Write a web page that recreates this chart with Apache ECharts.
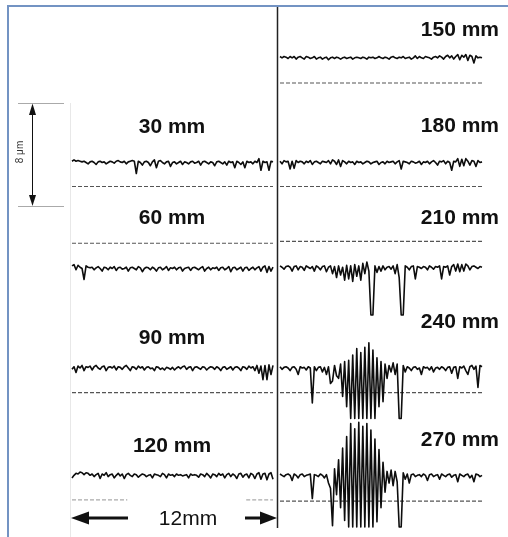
<!DOCTYPE html>
<html><head><meta charset="utf-8">
<script src="https://cdn.jsdelivr.net/npm/echarts@6/dist/echarts.min.js"></script>
<style>html,body{margin:0;padding:0;background:#fff}#c{width:508px;height:537px}</style>
</head><body><div id="c"></div>
<script>
// profile sampling step along the 12 mm trace (mm)
const xStepMm = 0.12;
const traceLengthMm = 12;
const leftLabels = ['30 mm', '60 mm', '90 mm', '120 mm'];
const rightLabels = ['150 mm', '180 mm', '210 mm', '240 mm', '270 mm'];
const scaleLabelY = '8 μm';
const scaleLabelX = '12mm';

// roughness deviations (μm)
const p30 = [0.1,0.2,0.1,0.15,0.1,0.05,0.1,0.0,-0.1,0.05,
 0.1,0.0,-0.15,0.05,0.1,0.0,0.05,-0.1,0.0,0.1,
 0.05,-0.05,0.1,0.15,0.05,0.0,0.1,-0.1,0.05,0.1,
 0.15,0.1,-0.85,0.1,0.0,-0.2,0.05,0.1,0.0,-0.25,
 0.05,0.2,-0.4,0.1,0.15,0.0,-0.1,0.05,0.1,-0.3,
 0.0,0.05,-0.1,0.0,0.1,-0.15,0.05,0.0,-0.1,0.05,
 0.1,-0.05,0.0,0.1,-0.2,0.05,0.1,0.0,-0.1,0.05,
 0.0,-0.25,0.05,0.1,0.0,-0.1,0.05,-0.2,0.1,0.0,
 0.05,-0.4,0.1,0.0,-0.15,0.05,-0.4,0.1,0.0,0.05,
 -0.1,0.1,0.0,0.3,-0.6,0.1,0.0,0.05,-0.6,0.1,
 0.05];
const p60 = [0.2,0.3,-0.1,0.25,0.1,0.0,-0.85,0.2,0.1,0.05,
 0.1,-0.1,0.05,0.15,0.0,-0.2,0.1,0.05,-0.1,0.1,
 0.0,0.15,-0.15,0.05,0.1,-0.05,0.0,0.1,-0.2,0.05,
 0.1,0.0,-0.1,0.15,0.05,-0.25,0.0,0.1,0.05,-0.1,
 0.1,0.0,-0.2,0.05,0.1,-0.1,0.0,0.15,-0.15,0.05,
 0.0,0.1,-0.1,0.05,0.1,-0.2,0.0,0.05,0.1,-0.15,
 0.05,0.1,0.0,-0.1,0.05,0.15,-0.2,0.0,0.1,-0.1,
 0.05,0.0,0.1,-0.15,0.05,0.1,-0.1,0.0,0.15,-0.25,
 0.05,0.1,-0.1,0.0,0.1,-0.2,0.05,0.1,-0.15,0.0,
 0.1,-0.1,0.05,0.15,-0.2,0.1,0.2,-0.3,0.15,-0.2,
 0.1];
const p90 = [-0.1,0.1,-0.35,0.15,0.0,0.2,-0.2,0.1,0.05,0.15,
 -0.15,0.1,0.2,0.0,-0.1,0.1,0.15,-0.2,0.05,0.1,
 0.0,0.15,-0.15,0.1,0.05,-0.1,0.1,0.2,0.0,-0.2,
 0.1,0.05,-0.1,0.15,0.0,0.1,-0.15,0.05,0.1,-0.05,
 0.0,-0.2,0.1,0.05,-0.1,0.0,-0.15,0.05,0.0,-0.1,
 0.05,-0.15,0.0,0.1,-0.05,0.1,0.15,-0.1,0.05,0.1,
 -0.2,0.05,0.1,0.0,-0.1,0.1,0.05,-0.15,0.0,0.1,
 0.05,-0.1,0.1,0.0,-0.2,0.05,0.1,-0.1,0.0,0.1,
 -0.15,0.05,0.1,0.0,-0.2,0.1,0.05,-0.1,0.15,0.0,
 0.1,-0.2,0.2,-0.4,0.15,-0.9,0.2,-0.9,0.25,-0.5,
 0.2];
const p120 = [-0.2,0.0,0.15,0.1,0.25,0.2,0.05,0.2,0.15,0.0,
 0.1,-0.1,0.05,0.15,-0.25,0.1,0.0,0.2,-0.1,0.05,
 0.1,-0.2,0.0,0.15,-0.05,0.1,-0.25,0.05,0.15,0.0,
 -0.1,0.1,0.05,-0.15,0.0,0.1,0.05,-0.1,0.0,0.05,
 -0.2,0.1,0.05,0.0,-0.1,0.15,0.05,-0.2,0.1,0.0,
 0.05,-0.1,0.1,0.0,0.05,-0.05,0.0,0.05,-0.2,0.1,
 0.0,0.05,0.0,-0.15,0.1,0.05,-0.1,0.15,0.0,-0.2,
 0.1,0.05,-0.1,0.15,0.0,0.1,-0.2,0.05,0.15,-0.1,
 0.1,0.0,-0.25,0.1,0.15,-0.15,0.05,0.1,-0.2,0.15,
 0.05,-0.25,0.1,0.2,-0.3,0.1,0.15,-0.35,0.1,0.2,
 -0.3];
const p150 = [0.1,0.0,0.1,0.05,-0.05,0.1,0.0,0.1,-0.1,0.05,
 0.1,0.0,-0.1,0.1,0.05,-0.05,0.0,0.1,-0.1,0.0,
 0.05,-0.1,0.0,0.05,-0.15,0.0,0.05,-0.05,0.05,0.0,
 -0.1,0.0,0.05,-0.05,0.0,0.05,-0.1,0.0,0.05,0.0,
 -0.05,0.05,0.0,-0.1,0.05,0.0,0.05,-0.05,0.0,0.1,
 0.0,-0.05,0.05,0.0,-0.1,0.05,0.1,0.0,-0.05,0.05,
 0.0,0.1,-0.05,0.0,0.05,-0.1,0.0,0.15,-0.05,0.1,
 0.0,-0.05,0.1,0.05,0.0,-0.1,0.05,0.1,0.0,0.15,
 0.05,-0.1,0.1,0.2,0.0,0.15,-0.1,0.1,0.25,-0.15,
 0.2,0.05,0.25,-0.2,0.2,0.1,-0.4,0.15,0.0,0.05,
 0.0];
const p180 = [0.1,-0.1,0.15,0.05,0.1,-0.5,0.1,-0.45,0.15,0.0,
 0.1,0.05,-0.1,0.1,0.0,0.15,-0.15,0.05,0.1,0.0,
 -0.1,0.1,0.05,0.0,0.15,-0.1,0.2,0.1,-0.15,0.2,
 -0.3,0.15,0.05,-0.1,0.1,0.0,0.05,-0.15,0.1,0.0,
 0.05,-0.1,0.0,0.1,0.05,-0.1,0.0,0.05,0.1,-0.15,
 0.0,0.05,-0.1,0.1,0.0,0.05,0.1,-0.1,0.05,0.15,
 -0.5,0.1,0.05,0.0,-0.1,0.1,0.05,-0.05,0.0,0.1,
 -0.15,0.05,0.0,0.1,-0.1,0.05,0.15,0.0,-0.2,0.1,
 0.05,0.15,-0.1,0.1,0.0,-0.6,0.1,0.05,0.3,-0.3,
 0.25,-0.25,0.3,0.1,-0.2,0.15,0.1,-0.3,0.15,0.0,
 0.05];
const p210 = [0.1,0.0,-0.15,0.05,0.1,0.0,-0.3,0.05,0.1,-0.2,
 0.05,0.0,-0.25,0.1,0.0,-0.1,0.05,-0.3,0.1,0.0,
 -0.2,0.05,0.1,-0.35,0.0,0.1,-0.5,0.05,-0.8,0.1,
 -0.6,0.0,-1.0,0.15,-0.9,0.1,-1.1,0.2,-0.7,0.1,
 -1.0,0.3,-0.5,0.4,-0.3,-3.7,-3.7,0.1,-0.4,0.05,
 -0.3,0.1,-0.2,0.0,0.05,-0.15,0.1,-0.5,0.2,-0.8,
 -3.7,-3.7,0.1,0.0,-0.2,0.05,0.1,-0.9,0.05,0.0,
 -0.1,0.05,0.0,-0.2,0.1,0.0,-0.15,0.05,0.0,0.1,
 -0.9,0.05,0.0,0.1,-0.6,0.05,0.2,-0.3,0.25,-0.35,
 0.2,-0.3,0.25,0.1,-0.2,0.05,0.1,0.0,-0.1,0.05,
 0.0];
const p240 = [0.1,-0.1,0.05,0.1,0.0,-0.2,0.05,0.1,-0.1,-0.5,
 0.1,0.0,0.05,-0.15,0.1,0.0,-2.7,0.1,-0.2,0.05,
 0.1,-0.3,0.05,-0.5,0.1,-1.2,-1.0,0.2,-0.6,-0.8,
 0.3,-2.2,0.5,-3.0,0.6,-3.9,1.0,-3.9,1.5,-3.9,
 1.2,-3.9,1.6,-3.9,1.95,-3.9,1.4,-3.9,0.8,-3.0,
 0.5,-2.6,0.3,-0.8,0.2,-0.3,0.4,-0.5,0.3,-3.9,
 -3.9,0.2,-0.3,0.1,0.0,-0.2,0.05,0.1,-0.1,0.0,
 -0.5,0.1,0.0,0.05,-0.15,0.1,-0.3,0.0,0.05,-0.1,
 0.1,0.0,-0.2,0.05,0.1,-0.4,0.05,0.1,-0.8,0.1,
 0.0,0.15,-0.2,-0.5,0.1,0.2,-0.1,0.15,-1.5,0.2,
 0.1];
const p270 = [0.1,0.0,-0.1,0.05,0.1,0.0,-0.4,0.1,0.0,-0.2,
 0.05,0.1,-0.1,0.0,0.05,0.1,-1.8,0.05,0.0,-0.1,
 0.1,0.0,-0.2,0.05,-0.6,-1.0,-3.9,0.5,-1.5,1.2,
 -2.5,2.1,-3.5,3.0,-4.0,4.0,-4.0,3.6,-4.0,4.1,
 -4.0,3.8,-4.0,4.0,-4.0,3.5,-4.0,2.8,-3.6,2.0,
 -2.5,1.0,-1.3,0.3,-0.6,0.4,-0.8,0.3,-0.5,-4.0,
 -4.0,0.2,-0.3,0.1,-0.6,0.05,0.1,-0.1,0.0,0.05,
 -0.1,0.1,0.0,-0.4,0.05,0.1,-0.1,0.0,0.05,-0.3,
 0.1,0.0,-0.1,0.05,0.1,-0.15,0.0,0.05,-0.5,0.1,
 0.0,-0.1,0.05,0.1,-0.2,0.0,-0.5,0.1,0.05,-0.1,
 0.0];

// stacking levels of each trace in the figure (μm) and reference-line offsets
const leftProfiles = [p30, p60, p90, p120];
const rightProfiles = [p150, p180, p210, p240, p270];
const leftLevels = [28.2, 20.0, 12.3, 4.0];
const rightLevels = [36.3, 28.2, 20.1, 12.3, 4.0];
const leftRefOffsets = [-1.85, 1.95, -1.9, -1.9];
const rightRefOffsets = [-1.95, -1.85, 2.0, -1.9, -2.0];

const chart = echarts.init(document.getElementById('c'), null, {renderer: 'canvas'});

function profileSeries(vals, level, gi) {
  return {
    type: 'line', xAxisIndex: gi, yAxisIndex: gi, symbol: 'none', silent: true,
    animation: false, clip: false,
    data: vals.map((v, i) => [+(i * xStepMm).toFixed(3), level + v]),
    lineStyle: {color: '#0d0d0d', width: 1.6, join: 'round'}
  };
}
function refSeries(level, gi, segments, color) {
  const data = [];
  segments.forEach((s, k) => {
    if (k > 0) data.push([s[0], null]);
    data.push([s[0], level], [s[1], level]);
  });
  return {
    type: 'line', xAxisIndex: gi, yAxisIndex: gi, symbol: 'none', silent: true,
    animation: false, connectNulls: false,
    data: data,
    lineStyle: {color: color || '#555', width: 1.1, type: [4, 2]}
  };
}

const series = [];
leftProfiles.forEach((p, k) => {
  const segs = k === 3 ? [[0, 3.3], [10.4, traceLengthMm]] : [[0, traceLengthMm]];
  series.push(refSeries(leftLevels[k] + leftRefOffsets[k], 0, segs, k === 3 ? '#aaa' : '#555'));
  series.push(profileSeries(p, leftLevels[k], 0));
});
rightProfiles.forEach((p, k) => {
  series.push(refSeries(rightLevels[k] + rightRefOffsets[k], 1, [[0, traceLengthMm]]));
  series.push(profileSeries(p, rightLevels[k], 1));
});

const labelFont = 'bold 21px "Liberation Sans", Arial, sans-serif';
const leftLabelY = [127, 218, 338, 446];
const rightLabelY = [30, 126, 218, 322, 440];
const graphics = [
  {type: 'rect', shape: {x: 8, y: 6, width: 540, height: 560}, style: {fill: null, stroke: '#7393c3', lineWidth: 2}, z: 10},
  {type: 'line', shape: {x1: 70.5, y1: 103, x2: 70.5, y2: 537}, style: {stroke: '#e8e8e8', lineWidth: 1}},
  {type: 'line', shape: {x1: 277.5, y1: 6, x2: 277.5, y2: 528}, style: {stroke: '#222', lineWidth: 1.5}, z: 5},
  {type: 'line', shape: {x1: 18, y1: 103.5, x2: 64, y2: 103.5}, style: {stroke: '#aaa', lineWidth: 1}},
  {type: 'line', shape: {x1: 18, y1: 206.5, x2: 64, y2: 206.5}, style: {stroke: '#aaa', lineWidth: 1}},
  {type: 'line', shape: {x1: 32.5, y1: 110, x2: 32.5, y2: 200}, style: {stroke: '#111', lineWidth: 1}},
  {type: 'polygon', shape: {points: [[32.5, 103.5], [29, 115], [36, 115]]}, style: {fill: '#111'}},
  {type: 'polygon', shape: {points: [[32.5, 206], [29, 195], [36, 195]]}, style: {fill: '#111'}},
  {type: 'text', x: 20, y: 152, rotation: Math.PI / 2,
   style: {text: scaleLabelY, font: '10px "Liberation Sans", Arial, sans-serif', fill: '#333', align: 'center', verticalAlign: 'middle'}},
  {type: 'line', shape: {x1: 86, y1: 518, x2: 128, y2: 518}, style: {stroke: '#111', lineWidth: 3}},
  {type: 'polygon', shape: {points: [[71, 518], [89, 511.5], [89, 524.5]]}, style: {fill: '#111'}},
  {type: 'line', shape: {x1: 245, y1: 518, x2: 262, y2: 518}, style: {stroke: '#111', lineWidth: 3}},
  {type: 'polygon', shape: {points: [[277, 518], [260, 511.5], [260, 524.5]]}, style: {fill: '#111'}},
  {type: 'text', x: 188, y: 519,
   style: {text: scaleLabelX, font: '21px "Liberation Sans", Arial, sans-serif', fill: '#111', align: 'center', verticalAlign: 'middle'}}
];
leftLabels.forEach((t, k) => graphics.push({type: 'text', x: 172, y: leftLabelY[k],
  style: {text: t, font: labelFont, fill: '#111', align: 'center', verticalAlign: 'middle'}}));
rightLabels.forEach((t, k) => graphics.push({type: 'text', x: 499, y: rightLabelY[k],
  style: {text: t, font: labelFont, fill: '#111', align: 'right', verticalAlign: 'middle'}}));

chart.setOption({
  animation: false,
  backgroundColor: '#fff',
  grid: [
    {left: 72, width: 201, top: 10, height: 517},
    {left: 280, width: 202, top: 10, height: 517}
  ],
  xAxis: [
    {type: 'value', gridIndex: 0, min: 0, max: traceLengthMm, show: false},
    {type: 'value', gridIndex: 1, min: 0, max: traceLengthMm, show: false}
  ],
  yAxis: [
    {type: 'value', gridIndex: 0, min: 0, max: 40, show: false},
    {type: 'value', gridIndex: 1, min: 0, max: 40, show: false}
  ],
  series: series,
  graphic: graphics
});
</script></body></html>
